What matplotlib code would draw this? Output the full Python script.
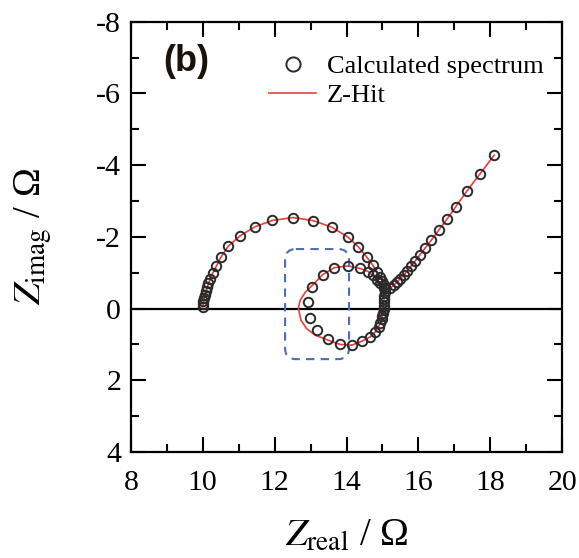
import numpy as np
import matplotlib
matplotlib.use("Agg")
import matplotlib.pyplot as plt
from matplotlib.patches import FancyBboxPatch
from matplotlib.ticker import MultipleLocator

# Calculated spectrum (Z_real, Z_imag), high -> low frequency
calc_re = [10.00, 10.01, 10.02, 10.04, 10.06, 10.09, 10.12, 10.16, 10.21, 10.28,
           10.38, 10.51, 10.71, 11.04, 11.45, 11.94, 12.52, 13.08, 13.59, 14.03,
           14.33, 14.56, 14.73, 14.84, 14.94, 15.00, 15.05, 15.08,
           15.06, 15.05, 15.04, 15.04, 15.03, 15.03, 15.02, 15.00, 14.98, 14.94,
           14.89, 14.80, 14.66, 14.43, 14.15, 13.82, 13.48, 13.17, 12.97, 12.94,
           13.03, 13.34, 13.66, 14.04, 14.38, 14.61, 14.75, 14.84, 14.94, 15.05,
           15.21, 15.31, 15.40, 15.49, 15.59, 15.68, 15.79, 15.91, 16.05, 16.19,
           16.36, 16.56, 16.79, 17.05, 17.35, 17.72, 18.11]
calc_im = [-0.05, -0.13, -0.21, -0.30, -0.39, -0.49, -0.59, -0.70, -0.83, -0.99,
           -1.19, -1.44, -1.74, -2.03, -2.28, -2.46, -2.54, -2.45, -2.27, -2.00,
           -1.72, -1.44, -1.21, -1.03, -0.89, -0.77, -0.66, -0.56,
           -0.45, -0.35, -0.26, -0.17, -0.07, 0.02, 0.11, 0.21, 0.30, 0.39,
           0.51, 0.65, 0.79, 0.91, 1.02, 1.00, 0.85, 0.60, 0.25, -0.19,
           -0.61, -0.95, -1.14, -1.19, -1.12, -1.03, -0.93, -0.81, -0.70, -0.58,
           -0.57, -0.65, -0.73, -0.82, -0.93, -1.05, -1.18, -1.33, -1.49, -1.68,
           -1.91, -2.19, -2.49, -2.84, -3.28, -3.75, -4.28]

# Z-Hit reconstruction (deviates from the points inside the dashed box)
zhit_re = [10.00, 10.06, 10.16, 10.28, 10.51, 10.71, 11.04, 11.45, 11.94, 12.52,
           13.08, 13.59, 14.03, 14.33, 14.56, 14.73, 14.94, 15.05, 15.08,
           15.05, 15.03, 15.02, 14.98, 14.89, 14.80, 14.66, 14.43, 14.15, 13.82,
           13.48, 13.13, 12.89, 12.73, 12.66, 12.71, 12.85, 13.03, 13.34, 13.66,
           14.04, 14.38, 14.61, 14.84, 15.05, 15.17,
           15.31, 15.59, 15.91, 16.36, 16.79, 17.35, 18.11]
zhit_im = [-0.05, -0.39, -0.70, -0.99, -1.44, -1.74, -2.03, -2.28, -2.46, -2.54,
           -2.45, -2.27, -2.00, -1.72, -1.44, -1.21, -0.89, -0.66, -0.56,
           -0.35, -0.07, 0.11, 0.30, 0.51, 0.65, 0.79, 0.91, 1.02, 1.00,
           0.88, 0.74, 0.56, 0.32, -0.02, -0.23, -0.45, -0.63, -0.95, -1.14,
           -1.19, -1.12, -1.03, -0.81, -0.62, -0.53,
           -0.65, -0.93, -1.33, -1.91, -2.49, -3.28, -4.28]

# dashed box around the deviating region (x0, x1, y0, y1)
box = (12.29, 14.07, -1.66, 1.41)

plt.rcParams['font.family'] = ['Liberation Serif', 'DejaVu Serif']
plt.rcParams['mathtext.fontset'] = 'stix'
plt.rcParams['axes.unicode_minus'] = False

fig = plt.figure(figsize=(5.79, 5.58), dpi=100)
ax = fig.add_axes([0.226, 0.19, 0.745, 0.771])

ax.axhline(0, color='black', lw=1.6, zorder=1)
ax.plot(calc_re, calc_im, 'o', ls='none', ms=6.8, mfc='none', mec='#2a2a2a',
        mew=1.4, label='Calculated spectrum', zorder=3)
ax.plot(zhit_re, zhit_im, '-', color='#f03c3c', lw=1.2, label='Z-Hit', zorder=2)

r = FancyBboxPatch((box[0], box[2]), box[1] - box[0], box[3] - box[2],
                   boxstyle='round,pad=0,rounding_size=0.3', fill=False,
                   ec='#4a6fb5', lw=1.5, ls=(0, (4, 3)), zorder=2)
ax.add_patch(r)

ax.set_xlim(8, 20)
ax.set_ylim(4, -8)
ax.xaxis.set_major_locator(MultipleLocator(2))
ax.xaxis.set_minor_locator(MultipleLocator(1))
ax.yaxis.set_major_locator(MultipleLocator(2))
ax.yaxis.set_minor_locator(MultipleLocator(1))
ax.tick_params(which='both', direction='in', top=True, right=True, width=1.5,
               labelsize=21.5)
ax.tick_params(which='major', length=11)
ax.tick_params(which='minor', length=6)
ax.tick_params(axis='x', pad=13)
ax.tick_params(axis='y', pad=7)
for s in ax.spines.values():
    s.set_linewidth(1.6)

ax.set_xlabel(r'$Z_{\rm real}$ / Ω', fontsize=28, labelpad=16)
ax.set_ylabel(r'$Z_{\rm imag}$ / Ω', fontsize=28, labelpad=30)

ax.text(8.89, -6.90, '(b)', fontsize=26, fontweight='bold',
        family=['Liberation Sans'], va='center', ha='left', color='#1a1208')

ax.legend(loc='upper right', bbox_to_anchor=(0.957, 0.924), frameon=False,
          fontsize=19, borderaxespad=0, borderpad=0, handlelength=1.8,
          handletextpad=0.4, labelspacing=0.22, markerscale=1.5)

fig.savefig('out.png', dpi=100)
